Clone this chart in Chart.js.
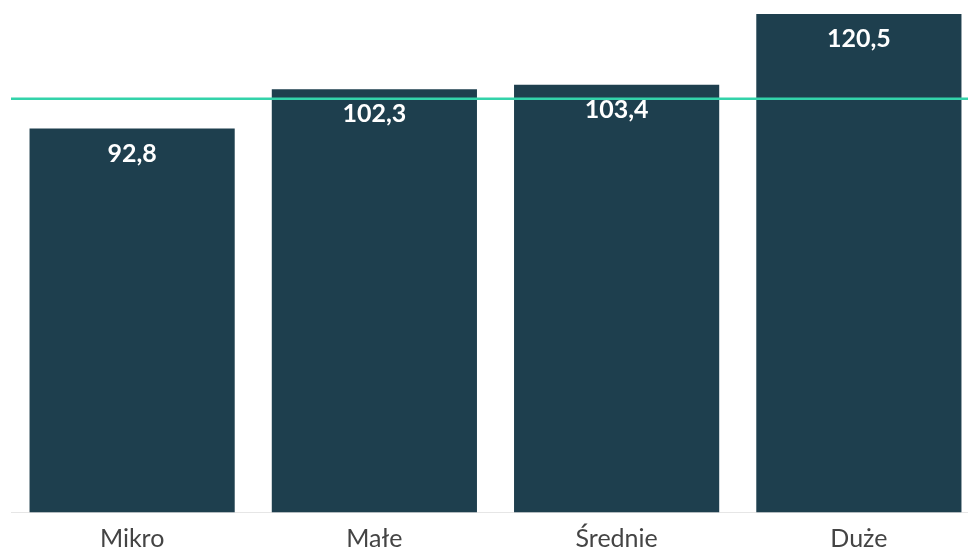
<!DOCTYPE html>
<html>
<head>
<meta charset="utf-8">
<script src="https://cdn.jsdelivr.net/npm/chart.js@4"></script>
<style>
  html, body { margin: 0; padding: 0; background: #fff; overflow: hidden; }
  #wrap { width: 980px; height: 565px; position: relative; }
</style>
</head>
<body>
<div id="wrap"><canvas id="chart"></canvas></div>
<script>
// Chart data
const categories = ['Mikro', 'Małe', 'Średnie', 'Duże'];
const values = [92.8, 102.3, 103.4, 120.5];
const referenceValue = 100;

// Format numbers with a decimal comma
function fmt(v) {
    return v.toFixed(1).replace('.', ',');
}

// Draws white value labels inside the top of each bar
const valueLabels = {
    id: 'valueLabels',
    afterDatasetsDraw(chart) {
        const ctx = chart.ctx;
        const meta = chart.getDatasetMeta(0);
        ctx.save();
        ctx.fillStyle = '#ffffff';
        ctx.font = 'bold 25px Lato, "Open Sans", sans-serif';
        ctx.textAlign = 'center';
        ctx.textBaseline = 'middle';
        meta.data.forEach((bar, i) => {
            ctx.fillText(fmt(values[i]), bar.x, bar.y + 25);
        });
        ctx.restore();
    }
};

// Horizontal reference line at 100
const refLine = {
    id: 'refLine',
    afterDatasetsDraw(chart) {
        const ctx = chart.ctx;
        const y = chart.scales.y.getPixelForValue(referenceValue);
        ctx.save();
        ctx.strokeStyle = '#33d3aa';
        ctx.lineWidth = 2.5;
        ctx.beginPath();
        ctx.moveTo(chart.chartArea.left, y);
        ctx.lineTo(chart.chartArea.right, y);
        ctx.stroke();
        ctx.restore();
    }
};

const ctx = document.getElementById('chart').getContext('2d');
new Chart(ctx, {
    type: 'bar',
    data: {
        labels: categories,
        datasets: [{
            data: values,
            backgroundColor: '#1e3f4e',
            categoryPercentage: 1,
            barPercentage: 0.847
        }]
    },
    options: {
        responsive: true,
        maintainAspectRatio: false,
        animation: false,
        layout: { padding: { top: 14, left: 11, right: 0, bottom: 0 } },
        plugins: {
            legend: { display: false },
            tooltip: { enabled: false }
        },
        scales: {
            x: {
                grid: { display: false, drawTicks: false },
                border: { color: '#e6e6e6', width: 1 },
                ticks: {
                    color: '#444444',
                    padding: 15,
                    font: { family: 'Lato, "Open Sans", sans-serif', size: 25, lineHeight: 0.9 }
                }
            },
            y: {
                display: false,
                min: 0,
                max: 120.5
            }
        }
    },
    plugins: [refLine, valueLabels]
});
</script>
</body>
</html>
